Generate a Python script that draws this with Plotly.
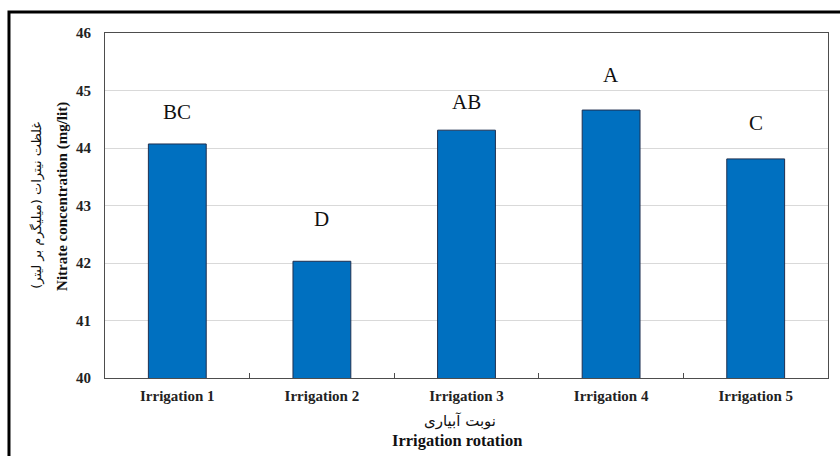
import plotly.graph_objects as go

# Nitrate concentration per irrigation round, with mean-separation letters
categories = ["Irrigation 1", "Irrigation 2", "Irrigation 3", "Irrigation 4", "Irrigation 5"]
nitrate = [44.07, 42.03, 44.31, 44.66, 43.81]
letters = ["BC", "D", "AB", "A", "C"]
y_ticks = [40, 41, 42, 43, 44, 45, 46]

SERIF = "Liberation Serif, Times New Roman, DejaVu Serif, serif"
ARABIC = "DejaVu Sans, Noto Sans, sans-serif"

fig = go.Figure()
fig.add_trace(go.Bar(
    x=categories,
    y=nitrate,
    width=0.4,
    marker=dict(color="#0070C0", line=dict(color="#1F3050", width=1)),
    showlegend=False,
    hoverinfo="x+y",
))

# letter groups above each bar (pixel offsets above the bar top)
letter_shift = [32, 42, 28, 35, 36]
for cat, val, lab, sh in zip(categories, nitrate, letters, letter_shift):
    fig.add_annotation(x=cat, y=val, text=lab, showarrow=False, yshift=sh,
                       font=dict(family=SERIF, size=21, color="#111111"))

# axis titles (Persian + English)
fig.add_annotation(xref="paper", yref="paper", x=-0.095, y=0.5,
                   xanchor="center", yanchor="middle",
                   text="غلظت نیترات (میلیگرم بر لیتر)", textangle=-90, showarrow=False,
                   font=dict(family=ARABIC, size=13, color="#111111"))
fig.add_annotation(xref="paper", yref="paper", x=-0.058, y=0.525,
                   xanchor="center", yanchor="middle",
                   text="<b>Nitrate concentration (mg/lit)</b>", textangle=-90, showarrow=False,
                   font=dict(family=SERIF, size=15, color="#111111"))
fig.add_annotation(xref="paper", yref="paper", x=0.491, y=-0.126,
                   xanchor="center", yanchor="middle",
                   text="نوبت آبیاری", showarrow=False,
                   font=dict(family=ARABIC, size=15, color="#111111"))
fig.add_annotation(xref="paper", yref="paper", x=0.487, y=-0.182,
                   xanchor="center", yanchor="middle",
                   text="<b>Irrigation rotation</b>", showarrow=False,
                   font=dict(family=SERIF, size=16.5, color="#111111"))

# outer frame: top and left rules
fig.add_shape(type="path", xref="paper", yref="paper",
              path="M -0.1328 -0.3 L -0.1328 1.0609 L 1.05 1.0609",
              line=dict(color="#000000", width=3))

fig.update_layout(
    width=840, height=456,
    margin=dict(l=105, r=12, t=33, b=78),
    paper_bgcolor="white",
    plot_bgcolor="white",
    bargap=0.6,
    font=dict(family=SERIF, color="#111111"),
    xaxis=dict(
        showline=True, linecolor="#4D4D4D", linewidth=1, mirror=True,
        ticks="inside", tickson="boundaries", ticklen=5, tickcolor="#4D4D4D",
        ticklabelstandoff=4,
        tickfont=dict(family=SERIF, size=15, color="#222222", weight="bold"),
        showgrid=False,
    ),
    yaxis=dict(
        range=[40, 46], tickvals=y_ticks,
        showline=True, linecolor="#4D4D4D", linewidth=1, mirror=True,
        ticks="", ticklabelstandoff=10,
        tickfont=dict(family=SERIF, size=15, color="#222222", weight="bold"),
        showgrid=True, gridcolor="#D9D9D9", gridwidth=1,
        zeroline=False,
    ),
)

fig.write_html("out.html")
